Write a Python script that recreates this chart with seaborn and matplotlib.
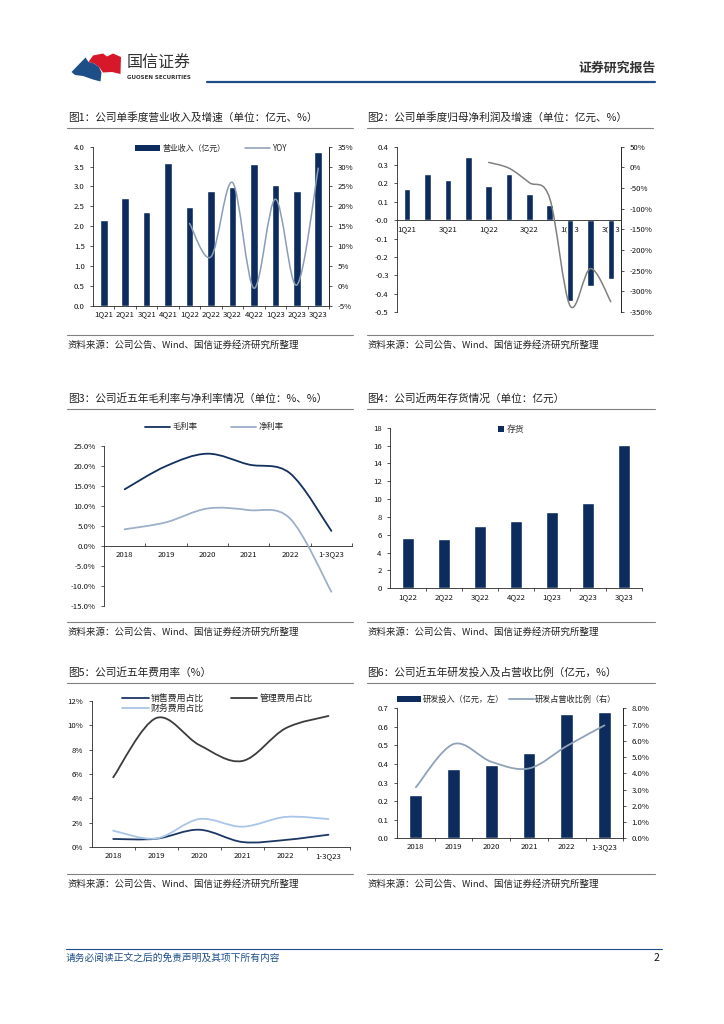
import numpy as np
import matplotlib
matplotlib.use("Agg")
import matplotlib.pyplot as plt
import seaborn as sns
from matplotlib.path import Path
from matplotlib.patches import PathPatch, Patch, Polygon
from matplotlib.lines import Line2D

# ---------------- 数据 ----------------
quarters = ['1Q21', '2Q21', '3Q21', '4Q21', '1Q22', '2Q22', '3Q22', '4Q22', '1Q23', '2Q23', '3Q23']
revenue = [2.15, 2.70, 2.36, 3.60, 2.48, 2.89, 2.98, 3.56, 3.03, 2.88, 3.86]
revenue_yoy = [np.nan, np.nan, np.nan, np.nan, 15.7, 7.3, 26.0, -0.6, 21.8, 0.2, 29.6]

net_profit = [0.167, 0.25, 0.217, 0.343, 0.187, 0.25, 0.143, 0.084, -0.44, -0.36, -0.32]
net_profit_yoy = [np.nan, np.nan, np.nan, np.nan, 12, -2, -37, -75, -335, -245, -325]

years = ['2018', '2019', '2020', '2021', '2022', '1-3Q23']
gross_margin = [14.1, 19.9, 23.0, 20.3, 18.1, 3.7]
net_margin = [4.1, 5.85, 9.3, 8.9, 6.8, -11.5]

inv_quarters = ['1Q22', '2Q22', '3Q22', '4Q22', '1Q23', '2Q23', '3Q23']
inventory = [5.64, 5.53, 6.98, 7.54, 8.55, 9.56, 16.06]

sales_ratio = [0.66, 0.68, 1.42, 0.41, 0.58, 1.01]
admin_ratio = [5.73, 10.6, 8.38, 7.07, 9.75, 10.77]
fin_ratio = [1.34, 0.70, 2.30, 1.67, 2.47, 2.30]

rd_spend = [0.233, 0.373, 0.393, 0.458, 0.67, 0.679]
rd_ratio = [3.14, 5.8, 4.71, 4.3, 5.68, 6.95]

# ---------------- 样式 ----------------
NAVY = '#0d2c5d'
FONT = ['Noto Sans CJK SC', 'DejaVu Sans']
sns.set_style('ticks')
plt.rcParams['font.family'] = FONT
plt.rcParams['axes.unicode_minus'] = False
plt.rcParams['axes.linewidth'] = 0.6
plt.rcParams['xtick.labelsize'] = 5.6
plt.rcParams['ytick.labelsize'] = 5.6
plt.rcParams['xtick.color'] = '#111111'
plt.rcParams['ytick.color'] = '#111111'
plt.rcParams['xtick.major.width'] = 0.5
plt.rcParams['ytick.major.width'] = 0.5
plt.rcParams['xtick.minor.width'] = 0.5
plt.rcParams['xtick.major.size'] = 2.5
plt.rcParams['ytick.major.size'] = 2.5
plt.rcParams['xtick.minor.size'] = 2.5

W, H = 724, 1024
fig = plt.figure(figsize=(W / 100, H / 100), dpi=100)

pg = fig.add_axes([0, 0, 1, 1])
pg.set_xlim(0, W)
pg.set_ylim(H, 0)
pg.axis('off')


def pos(x0, y0, x1, y1):
    return [x0 / W, 1 - y1 / H, (x1 - x0) / W, (y1 - y0) / H]


def smooth_line(ax, xs, ys, color, lw):
    # 平滑曲线（类似 Excel 的平滑线）
    pts = [(x, y) for x, y in zip(xs, ys) if not np.isnan(y)]
    pts = np.array(pts, dtype=float)
    n = len(pts)
    verts = [pts[0]]
    codes = [Path.MOVETO]
    for i in range(n - 1):
        p0 = pts[i - 1] if i > 0 else pts[i]
        p1 = pts[i]
        p2 = pts[i + 1]
        p3 = pts[i + 2] if i + 2 < n else pts[i + 1]
        verts += [p1 + (p2 - p0) / 6, p2 - (p3 - p1) / 6, p2]
        codes += [Path.CURVE4] * 3
    ax.add_patch(PathPatch(Path(verts, codes), fill=False, ec=color, lw=lw,
                           capstyle='round', zorder=4))


def cat_ticks(ax, n, minor=True, direction='out'):
    ax.set_xticks(range(n))
    ax.tick_params(axis='x', which='major', length=0)
    if minor:
        ax.set_xticks(np.arange(0.5, n, 1), minor=True)
        ax.tick_params(axis='x', which='minor', direction=direction)
    ax.set_xlim(-0.5, n - 0.5)


def header(x, y, title, ux0, ux1):
    pg.text(x, y, title, fontsize=7.7, va='center', ha='left', color='#222222')
    pg.plot([ux0, ux1], [y + 10.5, y + 10.5], color='#808080', lw=0.8)


def source(x, y, ux0, ux1):
    pg.plot([ux0, ux1], [y - 10, y - 10], color='#808080', lw=0.8)
    pg.text(x, y, '资料来源：公司公告、Wind、国信证券经济研究所整理', fontsize=6.8,
            va='center', ha='left', color='#222222')


# ---------------- 页眉页脚 ----------------
red_shape = [(88.5, 62), (93, 55.5), (103, 53.5), (107, 56.5), (113, 53.5), (121, 57),
             (120.5, 74), (112, 72), (103, 72.5), (99, 67), (94, 63.5)]
blue_shape = [(71.5, 72), (85.5, 57.5), (88.5, 62), (94, 63.5), (99, 67), (101.5, 72.5),
              (100.5, 81.5), (93, 79.5), (83, 76), (75, 75)]
pg.add_patch(Polygon(red_shape, closed=True, fc='#d7182a', ec='none'))
pg.add_patch(Polygon(blue_shape, closed=True, fc='#1d4f86', ec='none'))
pg.text(127, 63, '国信证券', fontsize=11.5, fontweight='medium', color='#333333', va='center')
pg.text(127, 77.5, 'GUOSEN SECURITIES', fontsize=4, fontweight='bold', color='#333333',
        va='center', family=['DejaVu Sans'])
pg.text(656, 68, '证券研究报告', fontsize=9.3, fontweight='bold', color='#333333',
        va='center', ha='right')
pg.plot([207, 655], [81.7, 81.7], color='#1f4e89', lw=1.6)

pg.plot([66, 662], [948.8, 948.8], color='#1f4e89', lw=0.8)
pg.text(66, 958, '请务必阅读正文之后的免责声明及其项下所有内容', fontsize=7, color='#1f4e89',
        va='center', ha='left', style='italic')
pg.text(659, 958, '2', fontsize=7.5, color='#111111', va='center', ha='right')

# ---------------- 图1 ----------------
header(68, 117, '图1：公司单季度营业收入及增速（单位：亿元、%）', 67, 353)
source(68, 345, 67, 353)
ax1 = fig.add_axes(pos(93, 146.7, 329, 305.7))
ax1.set_facecolor('none')
sns.barplot(x=quarters, y=revenue, color=NAVY, saturation=1, width=0.36, errorbar=None, ax=ax1)
cat_ticks(ax1, len(quarters))
ax1.set_xticklabels(quarters)
ax1.set_ylim(0, 4)
y1t = np.arange(0, 4.01, 0.5)
ax1.set_yticks(y1t)
ax1.set_yticklabels([f'{v:.1f}' for v in y1t])
ax1.set_xlabel('')
ax1.set_ylabel('')
ax1.spines['top'].set_visible(False)
ax1r = ax1.twinx()
ax1r.set_ylim(-5, 35)
y1r = np.arange(-5, 36, 5)
ax1r.set_yticks(y1r)
ax1r.set_yticklabels([f'{v}%' for v in y1r])
for s in ['top', 'left', 'bottom']:
    ax1r.spines[s].set_visible(False)
smooth_line(ax1r, range(len(quarters)), revenue_yoy, '#8a9db5', 1.1)
ax1.legend(handles=[Patch(fc=NAVY, ec='none', label='营业收入（亿元）'),
                    Line2D([], [], color='#8a9db5', lw=1.1, label='YOY')],
           loc='center', bbox_to_anchor=(0.5, 0.99), ncol=2, frameon=False, fontsize=5.7,
           handlelength=3.2, handleheight=0.6, columnspacing=2.5, handletextpad=0.3)

# ---------------- 图2 ----------------
header(367, 117, '图2：公司单季度归母净利润及增速（单位：亿元、%）', 367, 653)
source(367, 345, 367, 653)
ax2 = fig.add_axes(pos(397, 146.7, 621, 312))
ax2.set_facecolor('none')
sns.barplot(x=quarters, y=net_profit, color=NAVY, saturation=1, width=0.32, errorbar=None, ax=ax2)
ax2.set_xlim(-0.5, len(quarters) - 0.5)
ax2.set_xticks(range(0, len(quarters), 2))
ax2.set_xticklabels(quarters[::2])
ax2.tick_params(axis='x', length=0)
ax2.set_ylim(-0.5, 0.4)
y2t = np.round(np.arange(-0.5, 0.41, 0.1), 1)
ax2.set_yticks(y2t)
ax2.set_yticklabels([f'{v:.1f}' for v in y2t])
ax2.spines['bottom'].set_position(('data', 0))
ax2.spines['top'].set_visible(False)
ax2.set_xlabel('')
ax2.set_ylabel('')
ax2r = ax2.twinx()
ax2r.set_ylim(-350, 50)
y2r = np.arange(-350, 51, 50)
ax2r.set_yticks(y2r)
ax2r.set_yticklabels([f'{v}%' for v in y2r])
for s in ['top', 'left', 'bottom']:
    ax2r.spines[s].set_visible(False)
smooth_line(ax2r, range(len(quarters)), net_profit_yoy, '#808080', 1.1)

# ---------------- 图3 ----------------
header(68, 398.3, '图3：公司近五年毛利率与净利率情况（单位：%、%）', 67, 353)
source(68, 632, 67, 353)
ax3 = fig.add_axes(pos(104, 445.7, 352, 605.7))
ax3.set_facecolor('none')
cat_ticks(ax3, len(years), direction='in')
ax3.set_xticklabels(years)
ax3.set_ylim(-15, 25)
y3t = np.arange(-15, 26, 5)
ax3.set_yticks(y3t)
ax3.set_yticklabels([f'{v:.1f}%' for v in y3t])
ax3.spines['bottom'].set_position(('data', 0))
ax3.spines['top'].set_visible(False)
ax3.spines['right'].set_visible(False)
smooth_line(ax3, range(len(years)), gross_margin, '#14305e', 1.3)
smooth_line(ax3, range(len(years)), net_margin, '#9db0c8', 1.3)
ax3.legend(handles=[Line2D([], [], color='#14305e', lw=1.3, label='毛利率'),
                    Line2D([], [], color='#9db0c8', lw=1.3, label='净利率')],
           loc='center', bbox_to_anchor=(0.446, 1.117), ncol=2, frameon=False, fontsize=6,
           handlelength=3.0, columnspacing=4.0, handletextpad=0.3)

# ---------------- 图4 ----------------
header(367, 398.3, '图4：公司近两年存货情况（单位：亿元）', 367, 655)
source(367, 632, 367, 655)
ax4 = fig.add_axes(pos(390, 427.7, 642, 588.3))
ax4.set_facecolor('none')
sns.barplot(x=inv_quarters, y=inventory, color=NAVY, saturation=1, width=0.33,
            errorbar=None, ax=ax4)
cat_ticks(ax4, len(inv_quarters))
ax4.set_xticklabels(inv_quarters)
ax4.set_ylim(0, 18)
ax4.set_yticks(np.arange(0, 19, 2))
ax4.spines['top'].set_visible(False)
ax4.spines['right'].set_visible(False)
ax4.set_xlabel('')
ax4.set_ylabel('')
ax4.legend(handles=[Patch(fc=NAVY, ec='none', label='存货')], loc='center',
           bbox_to_anchor=(0.48, 0.99), frameon=False, fontsize=6.4,
           handlelength=0.7, handleheight=0.7, handletextpad=0.3)

# ---------------- 图5 ----------------
header(68, 672.7, '图5：公司近五年费用率（%）', 67, 353)
source(68, 884, 67, 353)
ax5 = fig.add_axes(pos(91.7, 701, 350, 847))
ax5.set_facecolor('none')
cat_ticks(ax5, len(years))
ax5.set_xticklabels(years)
ax5.set_ylim(0, 12)
y5t = np.arange(0, 13, 2)
ax5.set_yticks(y5t)
ax5.set_yticklabels([f'{v}%' for v in y5t])
ax5.spines['top'].set_visible(False)
ax5.spines['right'].set_visible(False)
smooth_line(ax5, range(len(years)), sales_ratio, '#1c3764', 1.3)
smooth_line(ax5, range(len(years)), admin_ratio, '#3c3c3c', 1.3)
smooth_line(ax5, range(len(years)), fin_ratio, '#a9c5e8', 1.3)
ax5.legend(handles=[Line2D([], [], color='#1c3764', lw=1.3, label='销售费用占比'),
                    Line2D([], [], color='#a9c5e8', lw=1.3, label='财务费用占比'),
                    Line2D([], [], color='#3c3c3c', lw=1.3, label='管理费用占比')],
           loc='center', bbox_to_anchor=(0.487, 0.985), ncol=2, frameon=False, fontsize=6.4,
           handlelength=3.0, columnspacing=3.0, handletextpad=0.2, labelspacing=0.1)

# ---------------- 图6 ----------------
header(367, 672.7, '图6：公司近五年研发投入及占营收比例（亿元，%）', 367, 655)
source(367, 884, 367, 655)
ax6 = fig.add_axes(pos(397, 708.3, 623.3, 838.3))
ax6.set_facecolor('none')
sns.barplot(x=years, y=rd_spend, color=NAVY, saturation=1, width=0.34, errorbar=None, ax=ax6)
cat_ticks(ax6, len(years))
ax6.set_xticklabels(years)
ax6.set_ylim(0, 0.7)
y6t = np.round(np.arange(0, 0.71, 0.1), 1)
ax6.set_yticks(y6t)
ax6.set_yticklabels([f'{v:.1f}' for v in y6t])
ax6.spines['top'].set_visible(False)
ax6.set_xlabel('')
ax6.set_ylabel('')
ax6r = ax6.twinx()
ax6r.set_ylim(0, 8)
y6r = np.arange(0, 9, 1)
ax6r.set_yticks(y6r)
ax6r.set_yticklabels([f'{v:.1f}%' for v in y6r])
for s in ['top', 'left', 'bottom']:
    ax6r.spines[s].set_visible(False)
smooth_line(ax6r, range(len(years)), rd_ratio, '#8fa2b7', 1.3)
ax6.legend(handles=[Patch(fc=NAVY, ec='none', label='研发投入（亿元，左）'),
                    Line2D([], [], color='#8fa2b7', lw=1.3, label='研发占营收比例（右）')],
           loc='center', bbox_to_anchor=(0.484, 1.07), ncol=2, frameon=False, fontsize=5.9,
           handlelength=3.0, handleheight=0.7, columnspacing=0.6, handletextpad=0.2)

fig.savefig('out.png', dpi=100)
